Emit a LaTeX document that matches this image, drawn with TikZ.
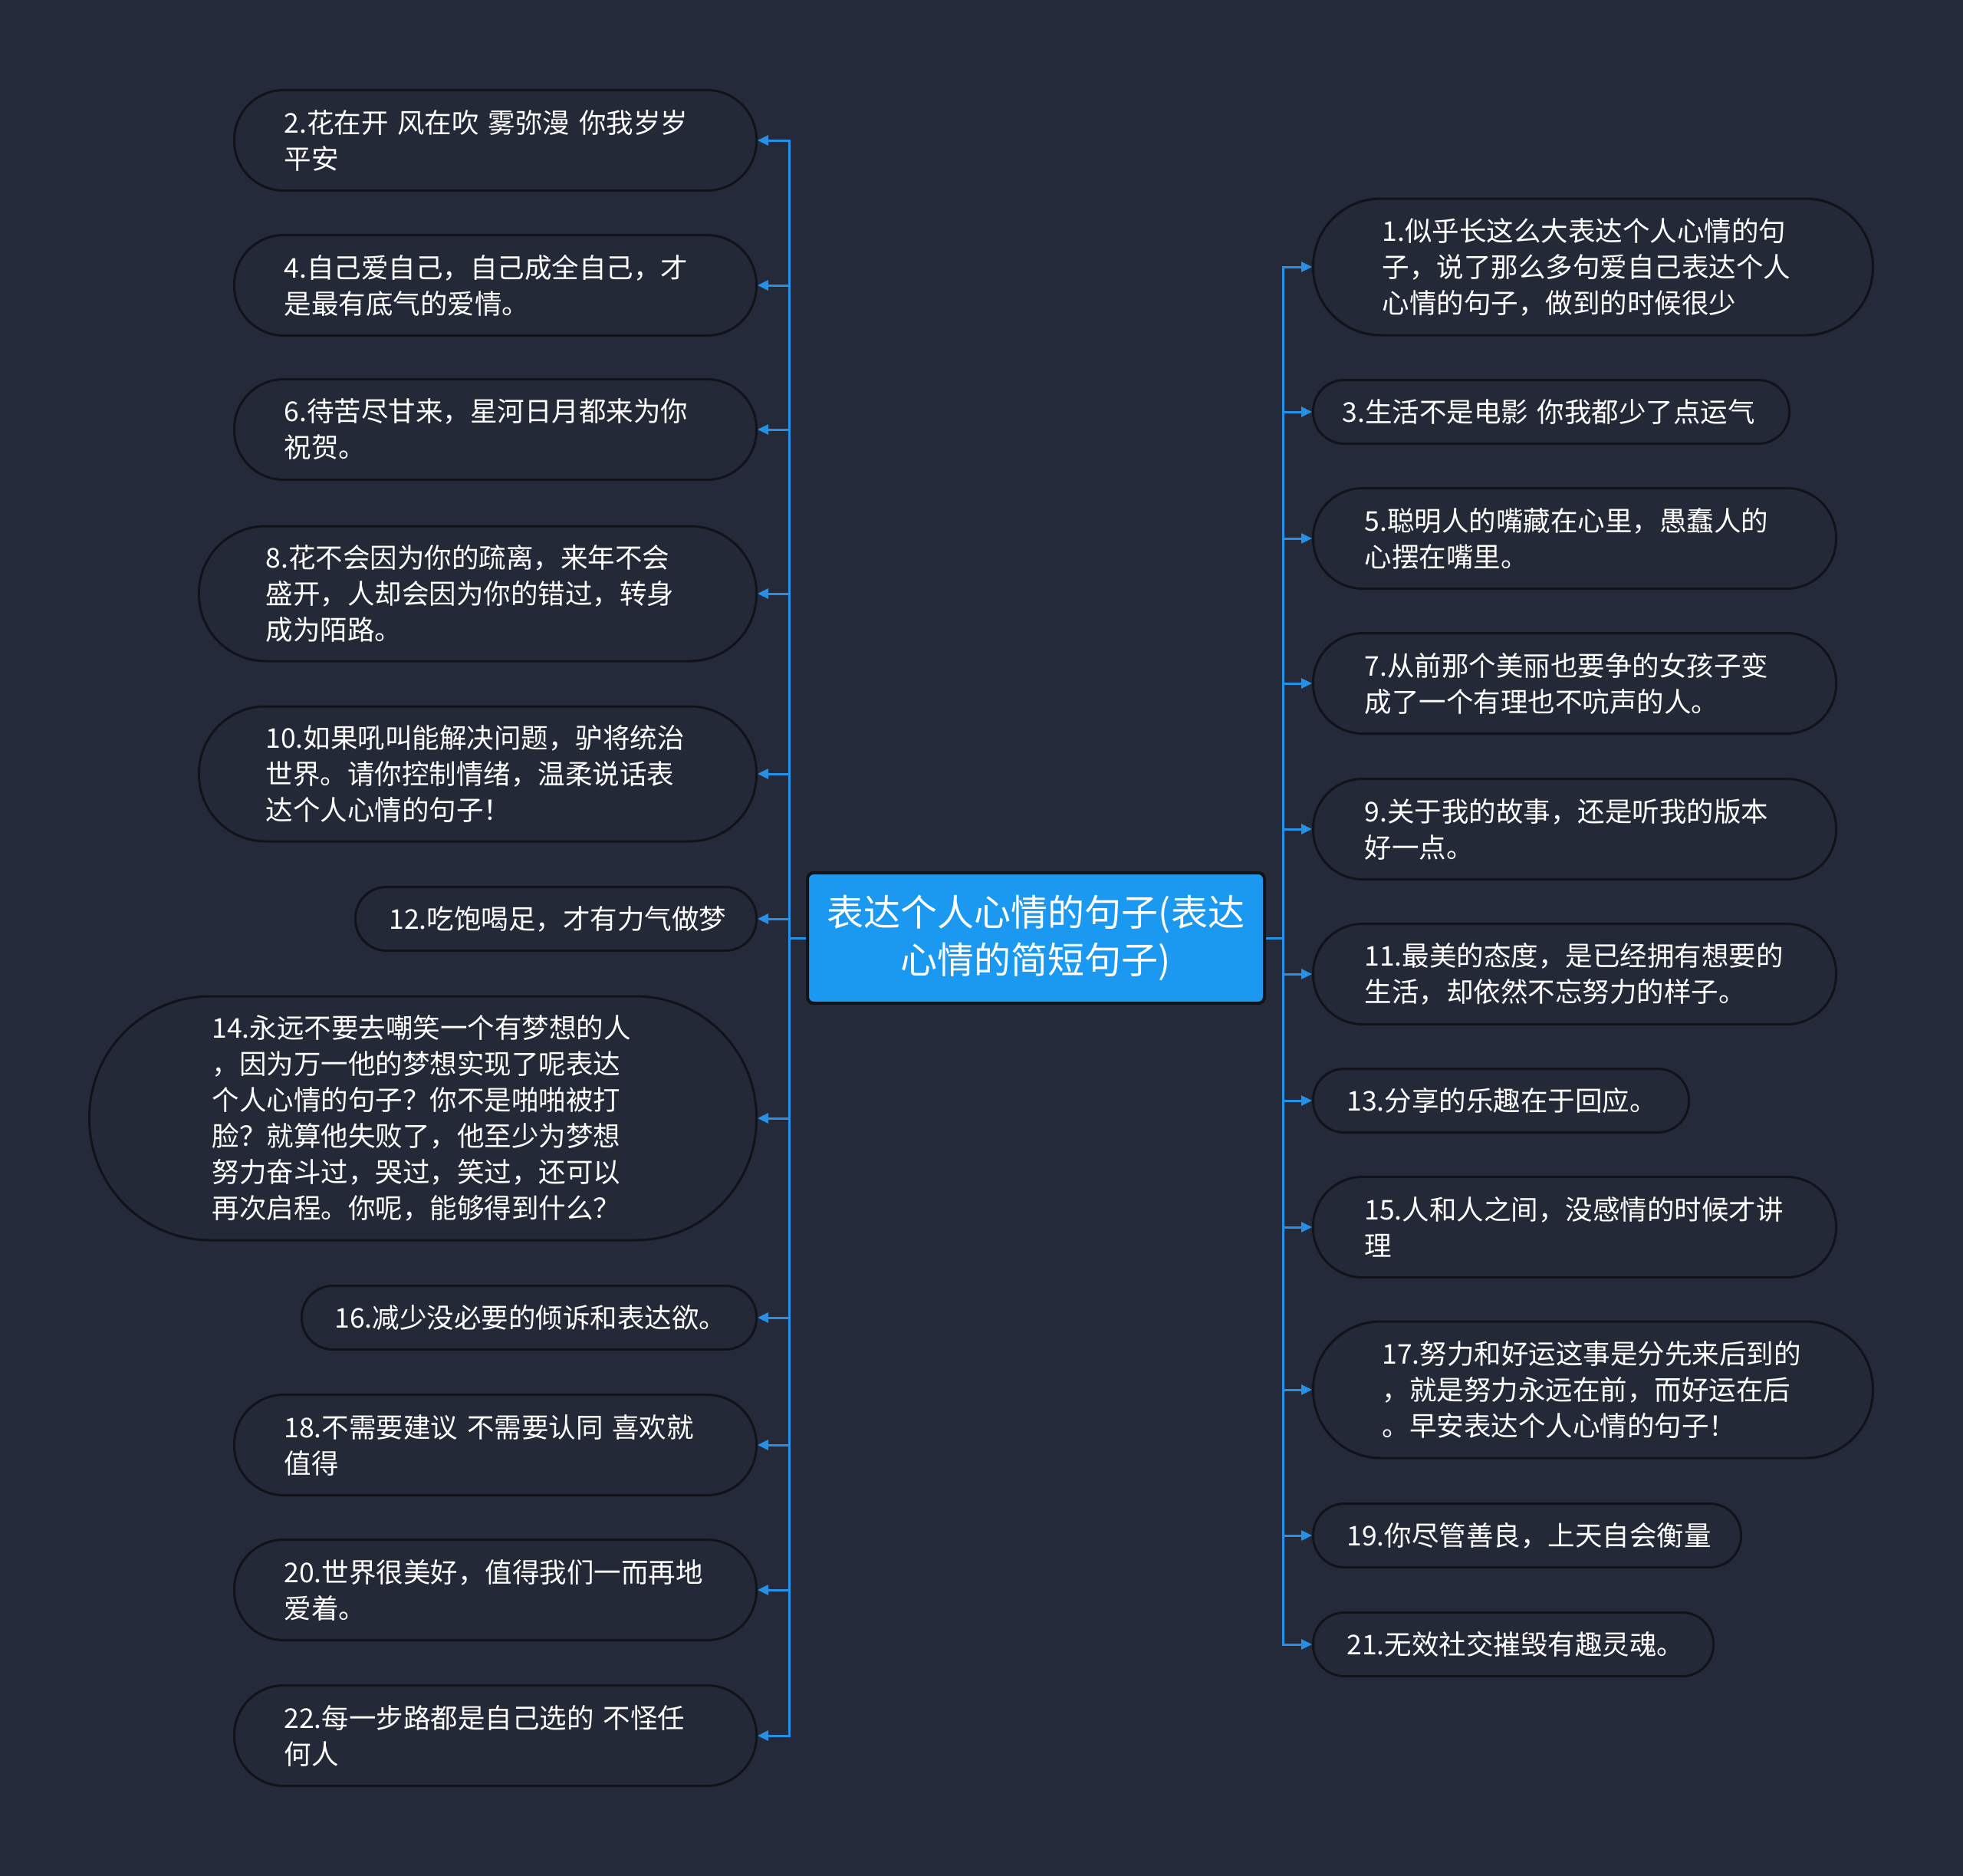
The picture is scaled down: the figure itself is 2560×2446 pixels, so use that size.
\documentclass[tikz,border=0pt]{standalone}
\usepackage{fontspec}
\setmainfont{Noto Sans CJK SC}
\usetikzlibrary{arrows.meta}
\definecolor{bg}{HTML}{252A3A}
\definecolor{nodefill}{HTML}{242938}
\definecolor{nodeborder}{HTML}{111318}
\definecolor{linec}{HTML}{2490E6}
\definecolor{centerfill}{HTML}{1B98F0}
\tikzset{
  branch/.style={draw=nodeborder, line width=3pt, fill=nodefill, text=white,
    align=left, inner ysep=0pt, font=\fontsize{35.5}{47}\selectfont},
  bx/.style n args={3}{branch, text width=#1, inner xsep=#2, minimum height=#3,
    rounded corners=#3/2-1},
  conn/.style={draw=linec, line width=3pt, -{Triangle[length=14pt,width=13pt]}},
  centerbox/.style={draw=nodeborder, line width=4pt, fill=centerfill, text=white,
    align=center, rounded corners=8pt, minimum width=596, minimum height=170,
    font=\fontsize{48}{62}\selectfont},
}
\begin{document}
\begin{tikzpicture}[x=1pt,y=-1pt]
\fill[bg] (0,0) rectangle (2560,2446);
\useasboundingbox (0,0) rectangle (2560,2446);

\node[centerbox] (C) at (1351,1223) {表达个人心情的句子(表达\\心情的简短句子)};
\coordinate (LS) at (1029,1223);
\coordinate (RS) at (1673,1223);

% left branches
\node[bx={551}{65}{131}, anchor=east] (L2) at (988,183) {2.花在开 风在吹 雾弥漫 你我岁岁\\平安};
\node[bx={551}{65}{131}, anchor=east] (L4) at (988,372) {4.自己爱自己，自己成全自己，才\\是最有底气的爱情。};
\node[bx={551}{65}{131}, anchor=east] (L6) at (988,560) {6.待苦尽甘来，星河日月都来为你\\祝贺。};
\node[bx={553}{87}{176}, anchor=east] (L8) at (988,774) {8.花不会因为你的疏离，来年不会\\盛开，人却会因为你的错过，转身\\成为陌路。};
\node[bx={553}{87}{176}, anchor=east] (L10) at (988,1009) {10.如果吼叫能解决问题，驴将统治\\世界。请你控制情绪，温柔说话表\\达个人心情的句子！};
\node[bx={435}{44}{83}, anchor=east] (L12) at (988,1198) {12.吃饱喝足，才有力气做梦};
\node[bx={550}{160}{318}, anchor=east] (L14) at (988,1458) {14.永远不要去嘲笑一个有梦想的人\\，因为万一他的梦想实现了呢表达\\个人心情的句子？你不是啪啪被打\\脸？就算他失败了，他至少为梦想\\努力奋斗过，哭过，笑过，还可以\\再次启程。你呢，能够得到什么？};
\node[bx={507}{43}{83}, anchor=east] (L16) at (988,1718) {16.减少没必要的倾诉和表达欲。};
\node[bx={551}{65}{131}, anchor=east] (L18) at (988,1884) {\mbox{18.不需要建议 不需要认同 喜欢就}\\值得};
\node[bx={551}{65}{131}, anchor=east] (L20) at (988,2073) {20.世界很美好，值得我们一而再地\\爱着。};
\node[bx={551}{65}{131}, anchor=east] (L22) at (988,2263) {\mbox{22.每一步路都是自己选的 不怪任}\\何人};

% right branches
\node[bx={550}{90}{178}, anchor=west] (R1) at (1711,348) {1.似乎长这么大表达个人心情的句\\子，说了那么多句爱自己表达个人\\心情的句子，做到的时候很少};
\node[bx={545}{38}{83}, anchor=west] (R3) at (1711,537) {\mbox{3.生活不是电影 你我都少了点运气}};
\node[bx={548}{67}{131}, anchor=west] (R5) at (1711,702) {5.聪明人的嘴藏在心里，愚蠢人的\\心摆在嘴里。};
\node[bx={548}{67}{131}, anchor=west] (R7) at (1711,891) {7.从前那个美丽也要争的女孩子变\\成了一个有理也不吭声的人。};
\node[bx={548}{67}{131}, anchor=west] (R9) at (1711,1081) {9.关于我的故事，还是听我的版本\\好一点。};
\node[bx={548}{67}{131}, anchor=west] (R11) at (1711,1270) {11.最美的态度，是已经拥有想要的\\生活，却依然不忘努力的样子。};
\node[bx={402}{44}{83}, anchor=west] (R13) at (1711,1435) {13.分享的乐趣在于回应。};
\node[bx={548}{67}{131}, anchor=west] (R15) at (1711,1600) {15.人和人之间，没感情的时候才讲\\理};
\node[bx={550}{90}{178}, anchor=west] (R17) at (1711,1812) {17.努力和好运这事是分先来后到的\\，就是努力永远在前，而好运在后\\。早安表达个人心情的句子！};
\node[bx={470}{44}{83}, anchor=west] (R19) at (1711,2002) {19.你尽管善良，上天自会衡量};
\node[bx={434}{44}{83}, anchor=west] (R21) at (1711,2144) {21.无效社交摧毁有趣灵魂。};

% connectors
\foreach \n in {L2,L4,L6,L8,L10,L12,L14,L16,L18,L20,L22}
  \draw[conn] (C.west) -- (LS) |- (\n.east);
\foreach \n in {R1,R3,R5,R7,R9,R11,R13,R15,R17,R19,R21}
  \draw[conn] (C.east) -- (RS) |- (\n.west);
\end{tikzpicture}
\end{document}
